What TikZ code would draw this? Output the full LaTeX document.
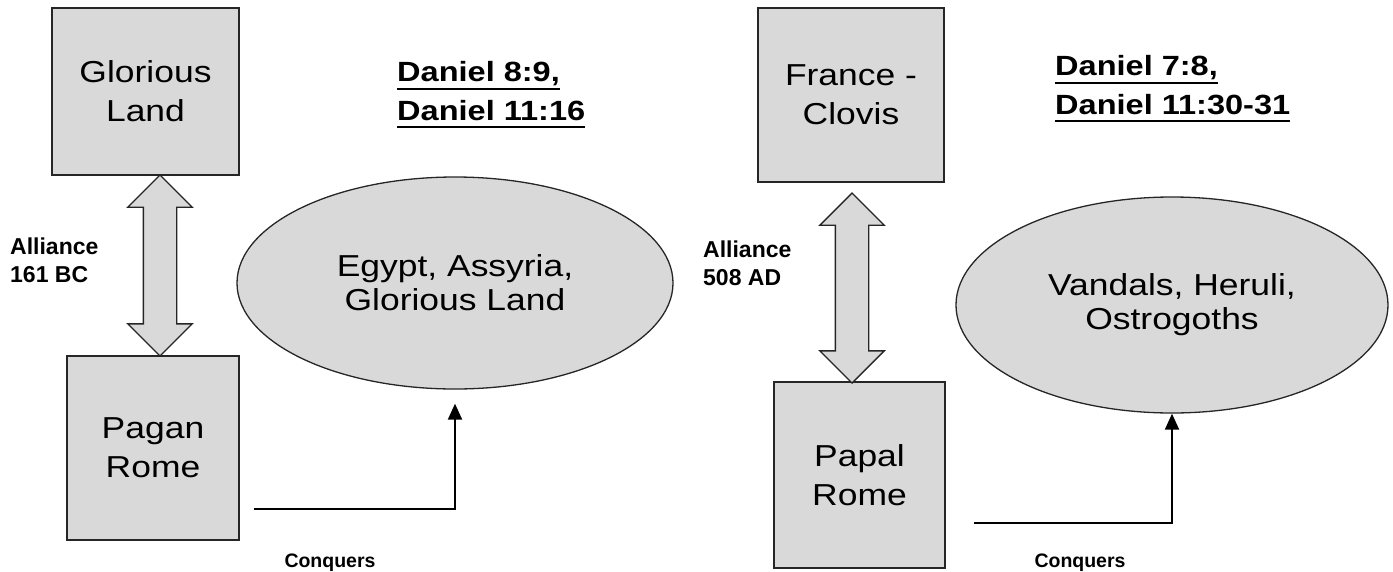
\documentclass[tikz,border=0pt]{standalone}
\usepackage{fontspec}
\setmainfont[FakeStretch=1.17]{Liberation Sans}
\newfontfamily\labelfont{Liberation Sans}
\usepackage{tikz}
\usetikzlibrary{shapes.geometric,shapes.arrows,arrows.meta,positioning}

\newcommand{\ulref}[1]{\setbox0=\hbox{#1}\rlap{\rule[-8pt]{\wd0}{2.3pt}}\box0}

\begin{document}
\begin{tikzpicture}[x=1pt, y=-1pt,
    every node/.style={font=\fontsize{30.3}{39}\selectfont},
    realm/.style={draw=black!85, line width=1.6pt, rectangle, fill=black!15, align=center, inner sep=0pt},
    foes/.style={draw=black!85, line width=1.3pt, ellipse, fill=black!15, align=center, inner sep=0pt, font=\fontsize{30.3}{34}\selectfont},
    pact/.style={draw=black!85, line width=1.4pt, double arrow, fill=black!15, rotate=90, inner xsep=0pt, inner ysep=16pt, double arrow head extend=15.5pt},
    tag/.style={font=\labelfont\bfseries\fontsize{23}{28}\selectfont, align=left, anchor=west, inner sep=0pt},
    verse/.style={font=\bfseries\fontsize{27.8}{38.5}\selectfont, align=left, anchor=west, inner sep=0pt},
    conquer/.style={draw=black, line width=2pt, -{Triangle[width=14pt,length=16pt]}},
    conqtag/.style={font=\labelfont\bfseries\fontsize{19.5}{20}\selectfont, inner sep=0pt}]
    \useasboundingbox (0,0) rectangle (1393,571);

    % Pagan Rome side
    \node[realm, minimum width=187pt, minimum height=167pt] (glorious) at (145.5,91.5) {Glorious\\Land};
    \node[realm, minimum width=172pt, minimum height=184pt] (pagan) at (153,448) {Pagan\\Rome};
    \node[pact, minimum height=181pt] (pact1) at (160,265.5) {};
    \node[tag] (ally1) at (10,260) {Alliance\\161 BC};
    \node[foes, minimum width=436pt, minimum height=212pt] (egypt) at (455,283) {Egypt, Assyria,\\Glorious Land};
    \node[verse] (dan1) at (397,95) {\ulref{Daniel 8:9,}\\\ulref{Daniel 11:16}};
    \node[conqtag] (conq1) at (330,563) {Conquers};

    % Papal Rome side
    \node[realm, minimum width=186pt, minimum height=174pt] (france) at (851,95) {France -\\Clovis};
    \node[realm, minimum width=171pt, minimum height=186pt] (papal) at (859.5,475) {Papal\\Rome};
    \node[pact, minimum height=190pt] (pact2) at (852,288) {};
    \node[tag] (ally2) at (703,263) {Alliance\\508 AD};
    \node[foes, minimum width=432pt, minimum height=216pt] (vandals) at (1172,305) {Vandals, Heruli,\\Ostrogoths};
    \node[verse] (dan2) at (1055,89) {\ulref{Daniel 7:8,}\\\ulref{Daniel 11:30-31}};
    \node[conqtag] (conq2) at (1080,563) {Conquers};

    % Edges
    \draw[conquer] ([xshift=14pt,yshift=32pt]pagan.south east) -| ([yshift=-14pt]egypt.south);
    \draw[conquer] ([xshift=28pt,yshift=46pt]papal.south east) -| (vandals.south);
\end{tikzpicture}
\end{document}
